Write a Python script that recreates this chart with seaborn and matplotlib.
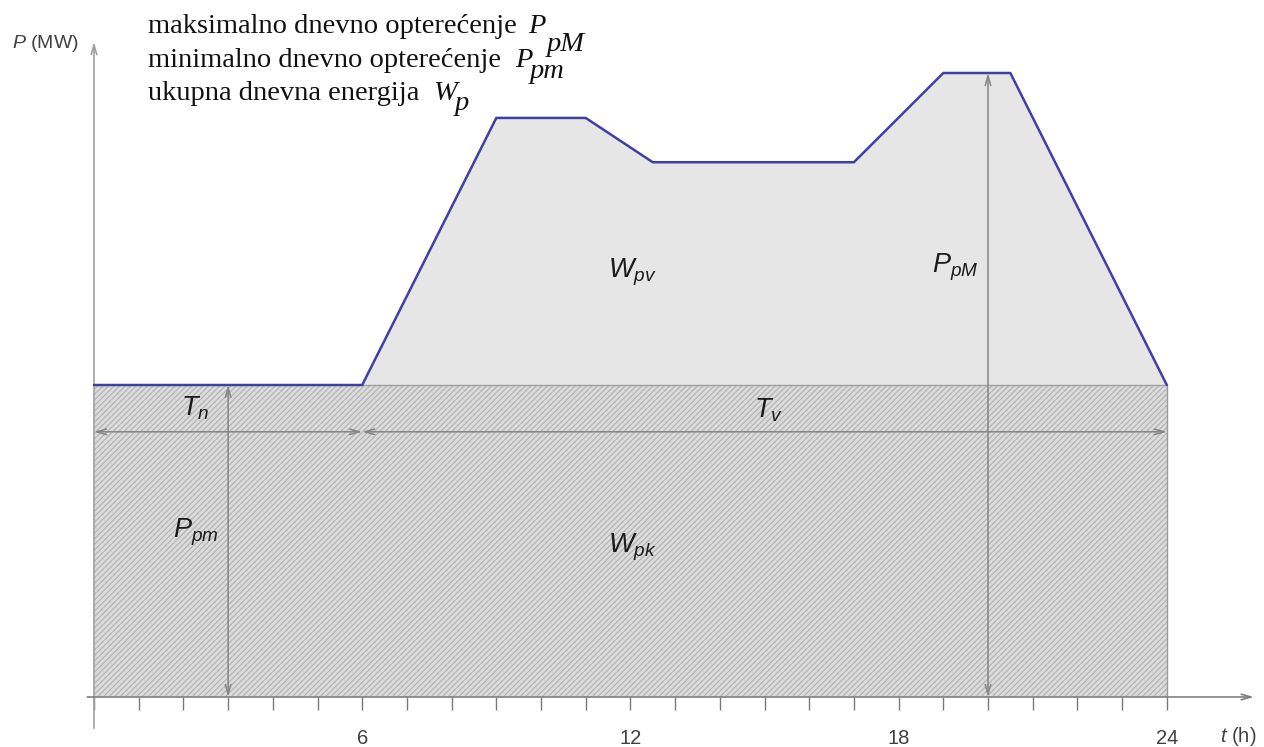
import numpy as np
import matplotlib
matplotlib.use("Agg")
import matplotlib.pyplot as plt
import seaborn as sns

# ---- data ----
hours = [0, 6, 9, 11, 12.5, 17, 19, 20.5, 24]
load = [50, 50, 92.8, 92.8, 85.7, 85.7, 100, 100, 50]
tick_hours = list(range(0, 25))
labeled_ticks = [6, 12, 18, 24]
night_end = 6
pm_arrow_t = 3
pM_arrow_t = 20

sns.set_style("white")
plt.rcParams["font.family"] = ["Liberation Sans", "DejaVu Sans"]
plt.rcParams["mathtext.fontset"] = "custom"
plt.rcParams["mathtext.it"] = "Liberation Sans:italic"
plt.rcParams["mathtext.rm"] = "Liberation Sans"
plt.rcParams["hatch.linewidth"] = 0.9

BLUE = "#3f3fa6"
AXC = "#a0a0a0"
ARC = "#858585"

fig = plt.figure(figsize=(12.64, 7.47), dpi=100)
ax = fig.add_axes([0, 0, 1, 1])

pmin = min(load)
pmax = max(load)
t0, t1 = hours[0], hours[-1]

# upper (light gray) area between min load and curve
ax.fill_between(hours, [pmin] * len(hours), load, color="#e6e6e6", lw=0, zorder=1)
# hatched base-load rectangle
ax.fill_between([t0, t1], [0, 0], [pmin, pmin], facecolor="#dcdcdc",
                edgecolor="#b4b4b4", hatch="//////", lw=0, zorder=1)
ax.plot([night_end, t1], [pmin, pmin], color="#a0a0a0", lw=1, zorder=2)
ax.plot([t1, t1], [0, pmin], color="#9a9a9a", lw=1, zorder=2)

# load curve
sns.lineplot(x=hours, y=load, ax=ax, color=BLUE, lw=1.8, sort=False,
             estimator=None, zorder=4)

# limits mapping to the reference layout
px_per_h = 44.7
px_per_mw = 6.24
ax.set_xlim(-94 / px_per_h, (1264 - 94) / px_per_h)
ax.set_ylim((697 - 747) / px_per_mw, 697 / px_per_mw)

for s in ax.spines.values():
    s.set_visible(False)
ax.spines["bottom"].set_position(("data", 0))
ax.set_yticks([])
ax.set_xticks(tick_hours)
ax.set_xticklabels([str(h) if h in labeled_ticks else "" for h in tick_hours])
ax.tick_params(axis="x", bottom=True, top=False, direction="out", length=9.4,
               width=1, color="#7a7a7a", pad=14, labelsize=14.5, labelcolor="#404040")
ax.set_xlabel("")
ax.set_ylabel("")

# axes with arrowheads
ax.annotate("", xy=(0, 105), xytext=(0, -5),
            arrowprops=dict(arrowstyle="->,head_length=0.7,head_width=0.2",
                            color=AXC, lw=1.2, shrinkA=0, shrinkB=0), zorder=3)
ax.annotate("", xy=(25.95, 0), xytext=(-0.15, 0),
            arrowprops=dict(arrowstyle="->,head_length=0.7,head_width=0.2",
                            color="#808080", lw=1.2, shrinkA=0, shrinkB=0), zorder=3)

dbl = dict(arrowstyle="<->,head_length=0.7,head_width=0.2", color=ARC, lw=1.1,
           shrinkA=0, shrinkB=0)
ax.annotate("", xy=(t0, 42.5), xytext=(night_end, 42.5), arrowprops=dbl, zorder=3)
ax.annotate("", xy=(night_end, 42.5), xytext=(t1, 42.5), arrowprops=dbl, zorder=3)
ax.annotate("", xy=(pm_arrow_t, 0), xytext=(pm_arrow_t, pmin), arrowprops=dbl, zorder=3)
ax.annotate("", xy=(pM_arrow_t, 0), xytext=(pM_arrow_t, pmax), arrowprops=dbl, zorder=3)

# region labels
lab = dict(fontsize=19.5, color="#1a1a1a", ha="center", va="center", zorder=5)
ax.text(12.04, 68.1, r"$W_{pv}$", **lab)
ax.text(19.26, 68.8, r"$P_{pM}$", **lab)
ax.text(2.28, 26.4, r"$P_{pm}$", **lab)
ax.text(12.04, 24.0, r"$W_{pk}$", **lab)
ax.text(2.26, 46.3, r"$T_{n}$", **lab)
ax.text(15.08, 46.0, r"$T_{v}$", **lab)

# axis titles
W, H = 1264, 747
def fx(x):
    return x / W
def fy(y):
    return 1 - y / H

fig.text(fx(12), fy(44), r"$P$ (MW)", fontsize=14, color="#404040", ha="left", va="center")
fig.text(fx(1238), fy(737), r"$t$ (h)", fontsize=14.5, color="#404040", ha="center", va="center")

# top-left description text (serif)
ser = dict(family=["Liberation Serif", "DejaVu Serif"], fontsize=20.5, color="#111111",
           va="baseline", ha="left")
seri = dict(ser, style="italic")
fig.text(fx(148), fy(33), "maksimalno dnevno opterećenje", **ser)
fig.text(fx(148), fy(67), "minimalno dnevno opterećenje", **ser)
fig.text(fx(148), fy(100), "ukupna dnevna energija", **ser)
fig.text(fx(528), fy(33), "P", **seri)
fig.text(fx(547), fy(51), "pM", **seri)
fig.text(fx(515), fy(67), "P", **seri)
fig.text(fx(530), fy(78), "pm", **seri)
fig.text(fx(433), fy(100), "W", **seri)
fig.text(fx(455), fy(110), "p", **seri)

fig.savefig("out.png", dpi=100)
